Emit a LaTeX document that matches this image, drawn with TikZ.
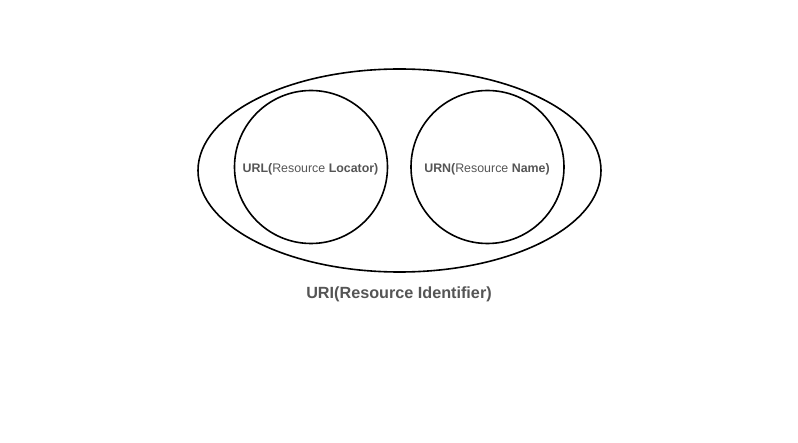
\documentclass[tikz,border=0pt]{standalone}
\usepackage{fontspec}
\setmainfont{Liberation Sans}
\definecolor{txtgray}{HTML}{555555}
\begin{document}
\begin{tikzpicture}[x=1pt,y=1pt,
  ring/.style={draw=black,line width=1.6pt},
  lbl/.style={text=txtgray,font=\fontsize{12.4}{14}\selectfont,inner sep=0pt},
  biglbl/.style={text=txtgray,font=\fontsize{16.2}{18}\bfseries\selectfont,inner sep=0pt}]
\useasboundingbox (0,0) rectangle (798,442);
\draw[ring] (399.5,271.5) ellipse [x radius=201.5,y radius=101.5];
\node[ring,circle,minimum size=153,inner sep=0pt] (url) at (311,275) {};
\node[ring,circle,minimum size=153,inner sep=0pt] (urn) at (487.5,275) {};
\node[lbl] (urltext) at (310.5,273) {\textbf{URL(}Resource \textbf{Locator)}};
\node[lbl] (urntext) at (487,273) {\textbf{URN(}Resource \textbf{Name)}};
\node[biglbl] (uri) at (399,148) {URI(Resource Identifier)};
\end{tikzpicture}
\end{document}
